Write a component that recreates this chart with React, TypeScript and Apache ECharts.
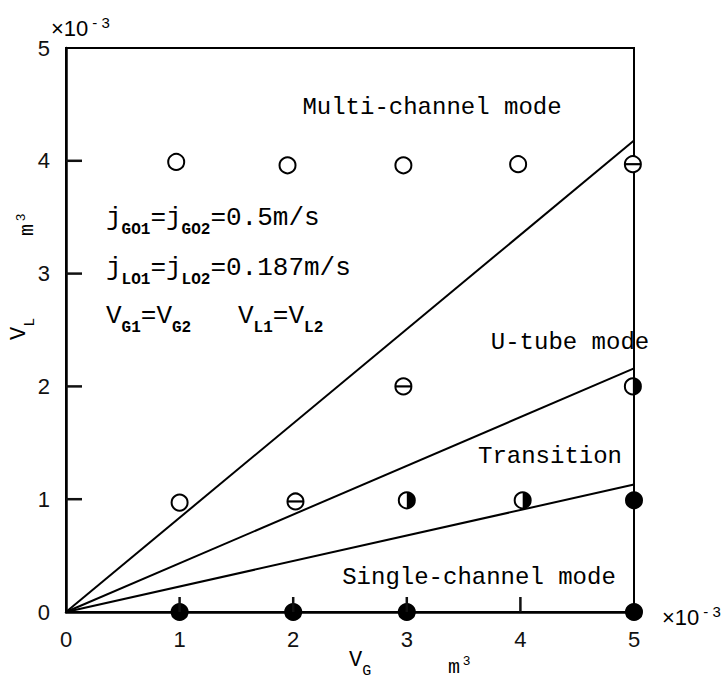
import React, { useEffect, useRef } from "react";
import * as echarts from "echarts";

// Axis range and ticks (both axes in units of 10^-3 m^3)
const axisTicks = [0, 1, 2, 3, 4, 5];

// Flow-pattern observations, [V_G, V_L]
const openPoints = [[0.97, 3.99], [1.95, 3.96], [2.97, 3.96], [3.98, 3.97], [1.0, 0.97]];
const barredPoints = [[4.99, 3.97], [2.97, 2.0], [2.02, 0.98]];
const halfPoints = [[4.99, 2.0], [3.0, 0.99], [4.02, 0.99]];
const filledPoints = [[5.0, 0.99], [1.0, 0.0], [2.0, 0.0], [3.0, 0.0], [5.0, 0.0]];

// Regime boundaries through the origin: V_L reached at V_G = 5
const boundaryEnds = [4.18, 2.16, 1.13];

const MONO = "'Liberation Mono', 'DejaVu Sans Mono', monospace";
const SANS = "'Liberation Sans', Arial, sans-serif";

type Kind = "open" | "barred" | "half" | "filled";

function markerSeries(kind: Kind, data: number[][]) {
  return {
    type: "custom",
    data,
    z: 10,
    clip: false,
    renderItem: (_params: any, api: any) => {
      const [cx, cy] = api.coord([api.value(0), api.value(1)]);
      const r = 8;
      const children: any[] = [
        {
          type: "circle",
          shape: { cx, cy, r },
          style: { fill: kind === "filled" ? "#000" : "#fff", stroke: "#000", lineWidth: 2 },
        },
      ];
      if (kind === "barred") {
        children.push({
          type: "line",
          shape: { x1: cx - r, y1: cy, x2: cx + r, y2: cy },
          style: { stroke: "#000", lineWidth: 2.2 },
        });
      }
      if (kind === "half") {
        children.push({
          type: "sector",
          shape: { cx, cy, r0: 0, r, startAngle: -Math.PI / 2, endAngle: Math.PI / 2, clockwise: true },
          style: { fill: "#000" },
        });
      }
      return { type: "group", children };
    },
  };
}

// Inward tick marks on the left and bottom axes at the inner tick values
const innerTicks = axisTicks.slice(1, -1);
const tickSeries = {
  type: "custom",
  data: innerTicks.map((v) => [v, v]),
  z: 12,
  clip: false,
  renderItem: (_params: any, api: any) => {
    const v = api.value(0);
    const p = api.coord([0, v]);
    const q = api.coord([v, 0]);
    return {
      type: "group",
      children: [
        { type: "rect", shape: { x: p[0], y: p[1] - 1.25, width: 16, height: 2.5 }, style: { fill: "#111" } },
        { type: "rect", shape: { x: q[0] - 1.25, y: q[1] - 15, width: 2.5, height: 15 }, style: { fill: "#111" } },
      ],
    };
  },
};

// Condition notes: larger monospace text with small bold subscripts
const noteRich = {
  n: { fontFamily: MONO, fontSize: 26, color: "#000", height: 30, verticalAlign: "top" },
  s: { fontFamily: MONO, fontSize: 16, fontWeight: "bold", color: "#000", height: 30, verticalAlign: "top", padding: [12, 0, 0, 0] },
};

// Axis titles
const titleRich = {
  n: { fontFamily: MONO, fontSize: 22, color: "#000", height: 26, verticalAlign: "top" },
  s: { fontFamily: MONO, fontSize: 15, color: "#000", height: 26, verticalAlign: "top", padding: [11, 0, 0, 0] },
};

const unitRich = {
  m: { fontFamily: MONO, fontSize: 20, color: "#000", height: 26, verticalAlign: "top", padding: [7, 0, 0, 0] },
  p: { fontFamily: SANS, fontSize: 13, color: "#000", height: 26, verticalAlign: "top", padding: [0, 0, 0, 3] },
};

const expRich = {
  b: { fontFamily: SANS, fontSize: 22, color: "#111", height: 28, verticalAlign: "top", padding: [6, 0, 0, 0] },
  e: { fontFamily: SANS, fontSize: 15, color: "#111", height: 28, verticalAlign: "top", padding: [0, 0, 0, 4] },
};

function label(text: string, x: number, y: number) {
  return {
    type: "text",
    x,
    y,
    style: { text, font: `24px ${MONO}`, fill: "#000", textAlign: "center", textVerticalAlign: "middle" },
  };
}

function richText(text: string, rich: any, x: number, y: number, rotation = 0) {
  return {
    type: "text",
    x,
    y,
    rotation,
    style: { text, rich, textAlign: "left", textVerticalAlign: "middle" },
  };
}

export default function App() {
  const ref = useRef<HTMLDivElement>(null);

  useEffect(() => {
    if (!ref.current) return;
    const chart = echarts.init(ref.current, undefined, { renderer: "svg" });

    const axisCommon = {
      type: "value",
      min: axisTicks[0],
      max: axisTicks[axisTicks.length - 1],
      interval: 1,
      axisLine: { show: true, lineStyle: { color: "#000", width: 2.5 } },
      axisTick: { show: false },
      splitLine: { show: false },
      axisLabel: { fontFamily: SANS, fontSize: 22, color: "#111", margin: 16 },
    };

    chart.setOption({
      animation: false,
      backgroundColor: "#fff",
      grid: {
        left: 66,
        right: 88,
        top: 48,
        bottom: 69,
        show: true,
        borderColor: "#000",
        borderWidth: 2,
        backgroundColor: "transparent",
      },
      xAxis: { ...axisCommon },
      yAxis: { ...axisCommon },
      series: [
        ...boundaryEnds.map((v) => ({
          type: "line",
          data: [
            [0, 0],
            [5, v],
          ],
          symbol: "none",
          z: 3,
          lineStyle: { color: "#000", width: 2 },
        })),
        markerSeries("open", openPoints),
        markerSeries("barred", barredPoints),
        markerSeries("half", halfPoints),
        markerSeries("filled", filledPoints),
        tickSeries,
      ],
      graphic: [
        label("Multi-channel mode", 432, 107),
        label("U-tube mode", 570, 342),
        label("Transition", 550, 456),
        label("Single-channel mode", 479, 577),
        richText("{n|j}{s|GO1}{n|=j}{s|GO2}{n|=0.5m/s}", noteRich, 106, 224),
        richText("{n|j}{s|LO1}{n|=j}{s|LO2}{n|=0.187m/s}", noteRich, 106, 274),
        richText("{n|V}{s|G1}{n|=V}{s|G2}{n|   V}{s|L1}{n|=V}{s|L2}", noteRich, 106, 322),
        richText("{b|×10}{e|- 3}", expRich, 51, 25),
        richText("{b|×10}{e|- 3}", expRich, 662, 614),
        richText("{n|V}{s|G}", titleRich, 349, 666),
        richText("{m|m}{p|3}", unitRich, 448, 664),
        richText("{n|V}{s|L}", titleRich, 25, 340, Math.PI / 2),
        richText("{m|m}{p|3}", unitRich, 24, 236, Math.PI / 2),
      ],
    });

    return () => chart.dispose();
  }, []);

  return <div ref={ref} style={{ width: 722, height: 681, position: "absolute", left: 0, top: 0, background: "#fff" }} />;
}
